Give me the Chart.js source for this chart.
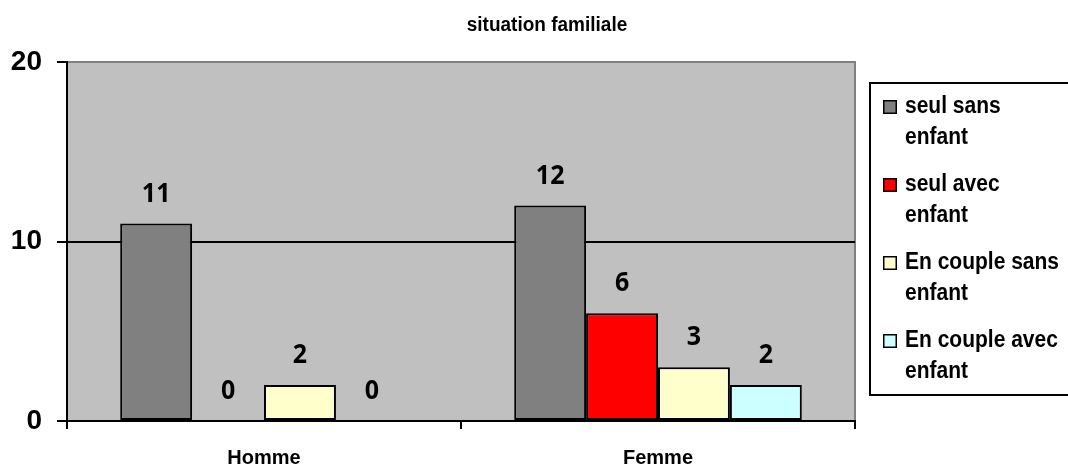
<!DOCTYPE html>
<html>
<head>
<meta charset="utf-8">
<script src="https://cdn.jsdelivr.net/npm/chart.js@4/dist/chart.umd.min.js"></script>
<style>
html,body{margin:0;padding:0;background:#fff;}
#wrap{width:1068px;height:471px;position:relative;}
</style>
</head>
<body>
<div id="wrap"><canvas id="c" width="1068" height="471"></canvas></div>
<script>
const categories = ['Homme', 'Femme'];
const seulSansEnfant = [11, 12];
const seulAvecEnfant = [0, 6];
const coupleSansEnfant = [2, 3];
const coupleAvecEnfant = [0, 2];
const seriesNames = [
  ['seul sans', 'enfant'],
  ['seul avec', 'enfant'],
  ['En couple sans', 'enfant'],
  ['En couple avec', 'enfant']
];
const seriesColors = ['#808080', '#FF0000', '#FFFFCC', '#CCFFFF'];
const yTicks = [0, 10, 20];
const titleText = 'situation familiale';

const seriesValues = [seulSansEnfant, seulAvecEnfant, coupleSansEnfant, coupleAvecEnfant];

function stretchedText(ctx, text, x, y, sy) {
  ctx.save();
  ctx.translate(x, y);
  ctx.scale(1, sy);
  ctx.fillText(text, 0, 0);
  ctx.restore();
}

const bgPlugin = {
  id: 'bgPlugin',
  beforeDraw(chart) {
    const {ctx, chartArea: a} = chart;
    ctx.save();
    ctx.fillStyle = '#fff';
    ctx.fillRect(0, 0, chart.width, chart.height);
    ctx.fillStyle = '#C0C0C0';
    ctx.fillRect(a.left, a.top, a.right - a.left, a.bottom - a.top);
    ctx.strokeStyle = '#808080';
    ctx.lineWidth = 2;
    ctx.beginPath();
    ctx.moveTo(a.left, a.top);
    ctx.lineTo(a.right, a.top);
    ctx.lineTo(a.right, a.bottom);
    ctx.stroke();
    ctx.restore();
  }
};

const overlayPlugin = {
  id: 'overlayPlugin',
  afterDraw(chart) {
    const ctx = chart.ctx;
    ctx.save();
    // title
    ctx.fillStyle = '#000';
    ctx.font = 'bold 19px "Liberation Sans", Arial, sans-serif';
    ctx.textAlign = 'center';
    ctx.textBaseline = 'middle';
    stretchedText(ctx, titleText, 547, 25, 1.1);
    // data labels
    ctx.font = '700 25px "Open Sans", sans-serif';
    ctx.textBaseline = 'alphabetic';
    chart.data.datasets.forEach((ds, i) => {
      const meta = chart.getDatasetMeta(i);
      meta.data.forEach((el, j) => {
        stretchedText(ctx, String(ds.data[j]), el.x, el.y - 22, 1.05);
      });
    });
    // legend
    ctx.strokeStyle = '#000';
    ctx.lineWidth = 2;
    ctx.strokeRect(870, 83, 230, 312);
    ctx.font = 'bold 21px "Liberation Sans", Arial, sans-serif';
    ctx.textAlign = 'left';
    ctx.textBaseline = 'middle';
    chart.data.datasets.forEach((ds, i) => {
      const y0 = 107 + 78 * i;
      ctx.fillStyle = ds.backgroundColor;
      ctx.fillRect(883, y0 - 7, 14, 14);
      ctx.lineWidth = 1.5;
      ctx.strokeStyle = '#000';
      ctx.strokeRect(883.75, y0 - 6.25, 12.5, 12.5);
      ctx.fillStyle = '#000';
      ds.label.forEach((line, k) => {
        stretchedText(ctx, line, 905, y0 + 31 * k, 1.12);
      });
    });
    ctx.restore();
  }
};

new Chart(document.getElementById('c'), {
  type: 'bar',
  data: {
    labels: categories,
    datasets: seriesValues.map((vals, i) => ({
      label: seriesNames[i],
      data: vals,
      backgroundColor: seriesColors[i],
      borderColor: '#000',
      borderWidth: 2,
      borderSkipped: false,
      barPercentage: 1.0,
      categoryPercentage: 0.73
    }))
  },
  options: {
    responsive: false,
    animation: false,
    devicePixelRatio: 1,
    layout: { padding: { left: 0, right: 213, top: 62, bottom: 0 } },
    plugins: {
      legend: { display: false },
      title: { display: false },
      tooltip: { enabled: false }
    },
    scales: {
      x: {
        afterFit(scale) { scale.height = 50; },
        grid: {
          offset: true,
          color: 'rgba(0,0,0,0)',
          tickColor: '#000',
          tickLength: 8,
          lineWidth: 2,
          drawTicks: true
        },
        border: { display: true, color: '#000', width: 2 },
        ticks: {
          color: '#000',
          padding: 17,
          font: { family: '"Liberation Sans", Arial, sans-serif', size: 20, weight: 'bold' }
        }
      },
      y: {
        min: 0,
        max: 20,
        afterFit(scale) { scale.width = 67; },
        afterBuildTicks(scale) { scale.ticks = yTicks.map(v => ({ value: v })); },
        grid: {
          color: (c) => (c.tick && c.tick.value === 10) ? '#000' : 'rgba(0,0,0,0)',
          tickColor: '#000',
          tickLength: 10,
          lineWidth: 2,
          drawTicks: true
        },
        border: { display: true, color: '#000', width: 2 },
        ticks: {
          color: '#000',
          padding: 15,
          font: { family: '"Liberation Sans", Arial, sans-serif', size: 28, weight: 'bold' }
        }
      }
    }
  },
  plugins: [bgPlugin, overlayPlugin]
});
</script>
</body>
</html>
